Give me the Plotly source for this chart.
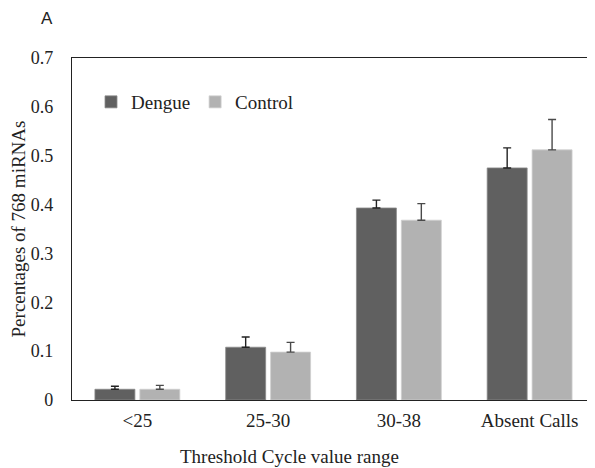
import plotly.graph_objects as go

categories = ["<25", "25-30", "30-38", "Absent Calls"]
dengue = [0.022, 0.108, 0.393, 0.475]
dengue_err = [0.006, 0.021, 0.016, 0.041]
control = [0.022, 0.098, 0.368, 0.512]
control_err = [0.008, 0.020, 0.034, 0.062]
y_ticks = [0, 0.1, 0.2, 0.3, 0.4, 0.5, 0.6, 0.7]
y_tick_labels = ["0", "0.1", "0.2", "0.3", "0.4", "0.5", "0.6", "0.7"]

serif = "Liberation Serif, serif"
txt = "#222222"

# page body has an 8px margin; figure is offset accordingly
W, H = 587, 460
L, T, B = 64, 50, 68
PH = H - T - B
PW = W - L

fig = go.Figure()
fig.add_trace(go.Bar(
    name="Dengue", x=categories, y=dengue,
    marker=dict(color="#606060", line=dict(color="#8a8a8a", width=0.8)),
    error_y=dict(type="data", array=dengue_err, arrayminus=[0] * len(dengue_err),
                 symmetric=False, color="#222222", thickness=1.4, width=4),
))
fig.add_trace(go.Bar(
    name="Control", x=categories, y=control,
    marker=dict(color="#b2b2b2", line=dict(color="#cfcfcf", width=0.8)),
    error_y=dict(type="data", array=control_err, arrayminus=[0] * len(control_err),
                 symmetric=False, color="#4a4a4a", thickness=1.4, width=4),
))

fig.update_layout(
    template="none",
    width=W, height=H,
    margin=dict(l=L, r=0, t=T, b=B),
    paper_bgcolor="white", plot_bgcolor="white",
    barmode="group", bargap=0.313, bargroupgap=0.11,
    font=dict(family=serif, size=19, color=txt),
    showlegend=True,
    legend=dict(orientation="h", x=(83 - L) / PW, y=1 - (94 - T) / PH,
                xanchor="left", yanchor="middle",
                font=dict(family=serif, size=19, color=txt),
                bgcolor="rgba(0,0,0,0)", itemwidth=30, tracegroupgap=0),
    xaxis=dict(range=[-0.5, 3.5], showline=True, linecolor="#222222", linewidth=1.3,
               mirror=True, showgrid=False, zeroline=False,
               ticks="outside", ticklen=3, tickcolor="rgba(0,0,0,0)",
               tickfont=dict(family=serif, size=19, color=txt)),
    yaxis=dict(range=[0, 0.7], tickvals=y_ticks, ticktext=y_tick_labels,
               showline=True, linecolor="#222222", linewidth=1.3, mirror=False,
               showgrid=False, zeroline=False,
               ticks="outside", ticklen=14, tickcolor="rgba(0,0,0,0)",
               tickfont=dict(family=serif, size=18, color=txt),
               title=dict(text="Percentages of 768 miRNAs", standoff=4,
                          font=dict(family=serif, size=19, color=txt))),
    annotations=[
        dict(text="Threshold Cycle value range", xref="paper", yref="paper",
             x=(289 - 72) / PW, y=-(456 - 400) / PH, xanchor="center", yanchor="middle",
             showarrow=False, font=dict(family=serif, size=19, color=txt)),
        dict(text="A", xref="paper", yref="paper", x=(47 - 72) / PW, y=1 + (58 - 18) / PH,
             xanchor="center", yanchor="middle", showarrow=False,
             font=dict(family="Liberation Sans, Arial, sans-serif", size=17, color=txt)),
    ],
)

fig.write_html("out.html")
